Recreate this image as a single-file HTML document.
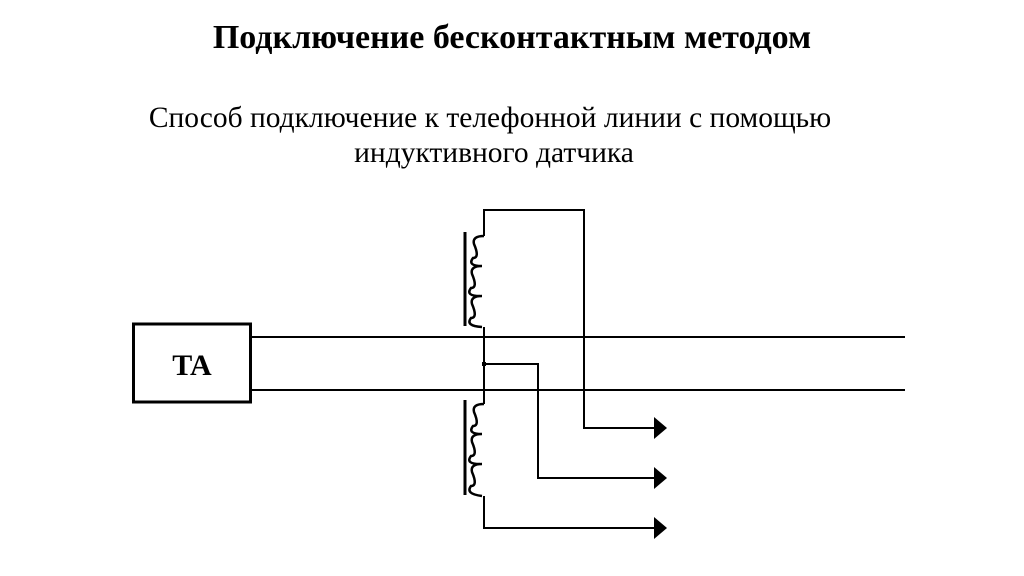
<!DOCTYPE html>
<html><head><meta charset="utf-8"><style>
body{margin:0;width:1024px;height:576px;background:#fff;overflow:hidden;position:relative;font-family:"Liberation Serif",serif}
.t{position:absolute;left:0;width:1024px;text-align:center;color:#000;white-space:nowrap}
</style></head><body>
<div class="t" style="top:19px;font-size:34px;font-weight:bold;">Подключение бесконтактным методом</div>
<div class="t" style="top:102px;font-size:29.5px;left:-22px;">Способ подключение к телефонной линии с помощью</div>
<div class="t" style="top:137px;font-size:29.5px;left:-18px;">индуктивного датчика</div>
<svg width="1024" height="576" style="position:absolute;left:0;top:0">
<g fill="none" stroke="#000" stroke-width="2">
<rect x="133.5" y="324" width="117" height="78" stroke-width="3"/>
<line x1="251" y1="337" x2="905" y2="337"/>
<line x1="251" y1="390" x2="905" y2="390"/>
<polyline points="484,236 484,210 584,210 584,428 655,428"/>
<polyline points="484,364 538,364 538,478 655,478"/>
<polyline points="484,327 484,404"/>
<polyline points="484,496 484,528 655,528"/>
<g stroke-width="2.5">
<path d="M484,236 q-12,0 -10,8 q6,14 -1,14 q-6,8 9,8 M482,266 q-12,0 -10,8 q6,14 -1,14 q-6,8 9,8 M482,296 q-12,0 -10,8 q6,14 -1,14 q-6,8 11,9" />
<path d="M484,404 q-12,0 -10,8 q6,14 -1,14 q-6,8 9,8 M482,434 q-12,0 -10,8 q6,14 -1,14 q-6,8 9,8 M482,464 q-12,0 -10,8 q6,14 -1,14 q-6,8 11,10" />
</g>
<line x1="465" y1="232" x2="465" y2="326" stroke-width="3"/>
<line x1="465" y1="400" x2="465" y2="495" stroke-width="3"/>
</g>
<g fill="#000">
<polygon points="654,417 667,428 654,439"/>
<polygon points="654,467 667,478 654,489"/>
<polygon points="654,517 667,528 654,539"/>
<rect x="482" y="362" width="4" height="4"/>
</g>
<text x="192" y="375" text-anchor="middle" font-family="Liberation Serif" font-weight="bold" font-size="30">TA</text>
</svg>
</body></html>
